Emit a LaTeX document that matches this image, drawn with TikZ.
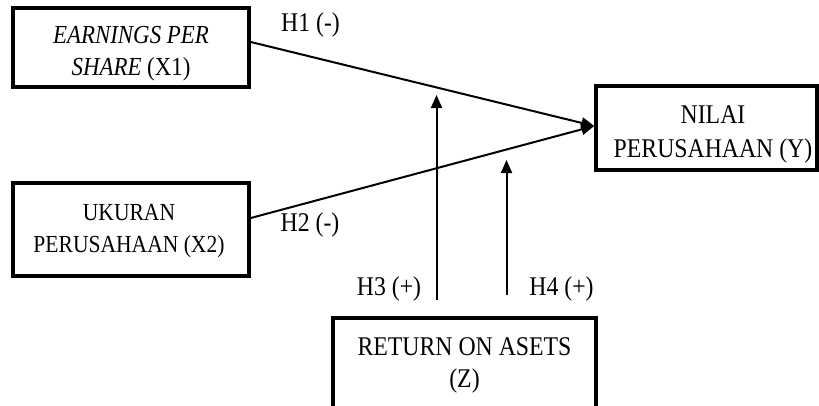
\documentclass[tikz,border=0pt]{standalone}
\usepackage{fontspec}
\setmainfont{Liberation Serif}[FakeStretch=0.88]
\usetikzlibrary{positioning,calc,arrows.meta}

\begin{document}
\begin{tikzpicture}[
        x=1pt, y=-1pt,
        % Style kotak variabel
        varbox/.style={
            rectangle,
            draw=black,
            line width=3.5pt,
            inner sep=0pt
        },
        % Style teks di dalam kotak
        boxtext/.style={
            anchor=north,
            align=center,
            inner sep=0pt,
            font=\fontsize{27}{34}\selectfont
        },
        % Style panah hipotesis
        hyp/.style={
            draw=black,
            line width=2pt,
            -{Triangle[length=13pt,width=11pt]}
        },
        % Style label hipotesis
        hlabel/.style={
            anchor=base,
            inner sep=0pt,
            font=\fontsize{27}{32}\selectfont
        }
    ]

        \useasboundingbox (0,0) rectangle (819,405);
        \clip (0,0) rectangle (819,405);

        % --- KOTAK VARIABEL ---
        \node[varbox, minimum width=236, minimum height=79] (x1) at (131,47.5) {};
        \node[varbox, minimum width=236, minimum height=93] (x2) at (131,229.5) {};
        \node[varbox, minimum width=221, minimum height=84] (y) at (706.5,128) {};
        \node[varbox, minimum width=263, minimum height=102] (z) at (464.5,369) {};

        % --- TEKS KOTAK ---
        \node[boxtext, font=\fontsize{26}{32}\selectfont] (x1t) at (131,26)
            {\textit{EARNINGS PER}\\\textit{SHARE} (X1)};
        \node[boxtext, font=\fontsize{24.5}{32}\selectfont] (x2t) at (129,204)
            {UKURAN\\PERUSAHAAN (X2)};
        \node[boxtext] (yt) at (713,105.5) {NILAI\\PERUSAHAAN (Y)};
        \node[boxtext, font=\fontsize{27}{32}\selectfont] (zt) at (464.5,337)
            {RETURN ON ASETS\\(Z)};

        % --- TITIK UJUNG PANAH MODERASI ---
        \coordinate (h3tip) at (436.5,95);
        \coordinate (h4tip) at (506.5,160);

        % --- PANAH ---
        \draw[hyp] ([yshift=5.5pt]x1.east) -- ([yshift=2pt]y.west);
        \draw[hyp] ([yshift=11.5pt]x2.east) -- ([yshift=2pt]y.west);
        \draw[hyp] ([xshift=-28pt,yshift=16pt]z.north) -- (h3tip);
        \draw[hyp] ([xshift=42pt,yshift=21pt]z.north) -- (h4tip);

        % --- LABEL HIPOTESIS ---
        \node[hlabel] (h1) at (310.5,31.7) {H1 (-)};
        \node[hlabel] (h2) at (310,231.7) {H2 (-)};
        \node[hlabel] (h3) at (389,295) {H3 (+)};
        \node[hlabel] (h4) at (561.5,295) {H4 (+)};

    \end{tikzpicture}
\end{document}
